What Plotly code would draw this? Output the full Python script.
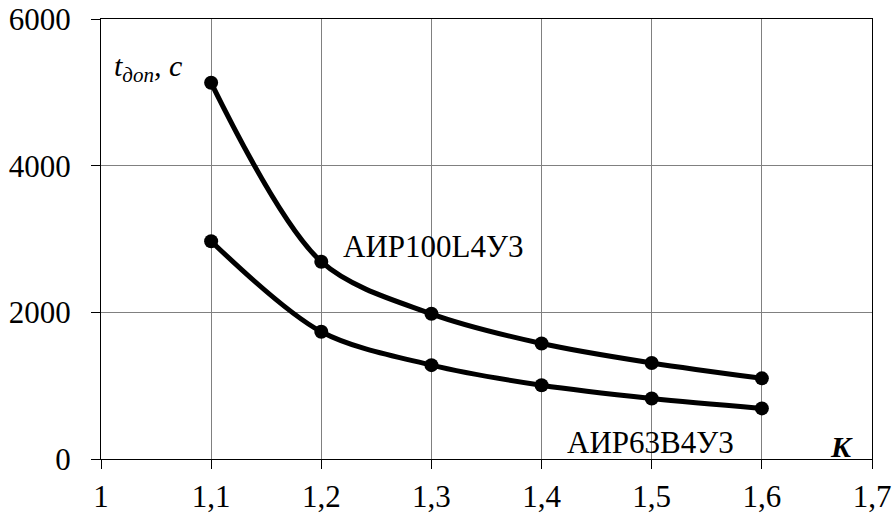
import plotly.graph_objects as go

# Data
k_values = [1.1, 1.2, 1.3, 1.4, 1.5, 1.6]
t_air100 = [5130, 2690, 1980, 1575, 1310, 1100]
t_air63 = [2970, 1735, 1280, 1005, 825, 690]
series_names = ["АИР100L4У3", "АИР63В4У3"]

x_tick_vals = [1.0, 1.1, 1.2, 1.3, 1.4, 1.5, 1.6, 1.7]
x_tick_text = ["1", "1,1", "1,2", "1,3", "1,4", "1,5", "1,6", "1,7"]
y_tick_vals = [0, 2000, 4000, 6000]
y_tick_text = ["0", "2000", "4000", "6000"]

FONT = "Times New Roman"

fig = go.Figure()
for vals, name in [(t_air100, series_names[0]), (t_air63, series_names[1])]:
    fig.add_trace(go.Scatter(
        x=k_values, y=vals, name=name, mode="lines+markers",
        line=dict(color="black", width=5, shape="spline", smoothing=0.9),
        marker=dict(color="black", size=14),
        cliponaxis=False,
    ))

fig.add_annotation(x=1.2175, y=2900, xref="x", yref="y", text="АИР100L4У3",
                   showarrow=False, xanchor="left", yanchor="middle",
                   font=dict(family=FONT, size=31, color="black"))
fig.add_annotation(x=1.421, y=225, xref="x", yref="y", text="АИР63В4У3",
                   showarrow=False, xanchor="left", yanchor="middle",
                   font=dict(family=FONT, size=31, color="black"))
# axis titles
fig.add_annotation(x=1.01, y=5330, xref="x", yref="y",
                   text="<i>t<sub>доп</sub>, с</i>",
                   showarrow=False, xanchor="left", yanchor="middle",
                   font=dict(family=FONT, size=30, color="black"))
fig.add_annotation(x=1.66, y=0, xref="x", yref="paper", yshift=-6,
                   text="<b><i>K</i></b>",
                   showarrow=False, xanchor="left", yanchor="bottom",
                   font=dict(family=FONT, size=30, color="black"))

axis_common = dict(
    showline=True, linecolor="black", linewidth=1, mirror=True,
    showgrid=True, gridcolor="#808080", gridwidth=1,
    ticks="outside", ticklen=9, tickcolor="black", tickwidth=1,
    tickfont=dict(family=FONT, size=31, color="black"),
    zeroline=False, automargin=False,
)
fig.update_xaxes(range=[1.0, 1.7], tickvals=x_tick_vals, ticktext=x_tick_text,
                 ticklabelstandoff=1, **axis_common)
fig.update_yaxes(range=[0, 6000], tickvals=y_tick_vals, ticktext=y_tick_text,
                 ticklabelstandoff=14, **axis_common)

fig.update_layout(
    width=893, height=515,
    margin=dict(l=101, r=21, t=19, b=56),
    paper_bgcolor="white", plot_bgcolor="white",
    showlegend=False,
    font=dict(family=FONT, color="black"),
)

fig.write_html("out.html", config={"displayModeBar": False},
               post_script="document.body.style.margin='0';document.body.style.padding='0';")
